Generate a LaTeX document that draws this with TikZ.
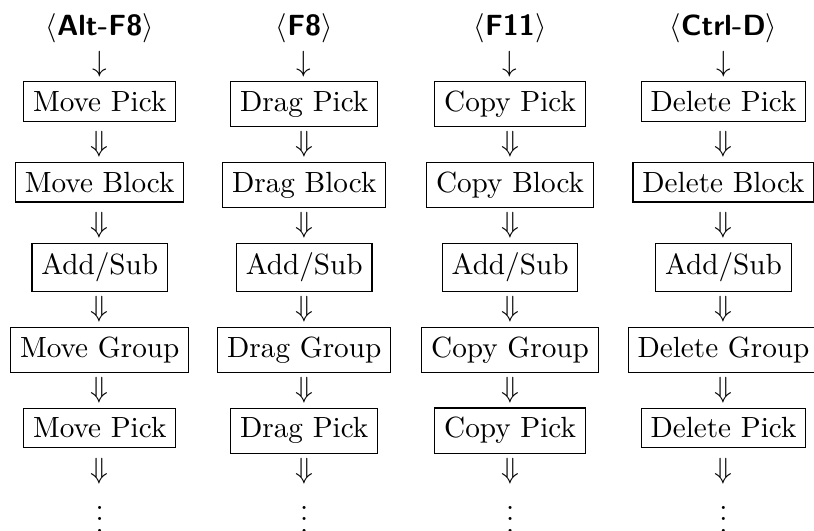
\documentclass[tikz,border=0pt]{standalone}
\usepackage{tikz}
\usetikzlibrary{positioning}

\begin{document}
\begin{tikzpicture}[x=1pt,y=1pt]
    \tikzstyle{op}=[draw,rectangle,inner sep=3.2,line width=0.4,anchor=base]
    \tikzstyle{key}=[inner sep=0,anchor=base,font=\sffamily\bfseries]
    \tikzstyle{flow}=[inner sep=0,anchor=base]
    \useasboundingbox (0,0) rectangle (278.8,-181.8);
    % Alt-F8 column
    {
        \node[key] (k1) at (34.15,-12.33) {$\langle$Alt-F8$\rangle$};
        \node[op] (p1) at (34.15,-38.17) {Move Pick};
        \node[op] (b1) at (34.15,-65.85) {Move Block};
        \node[op] (s1) at (34.15,-94.09) {Add/Sub};
        \node[op] (g1) at (34.15,-122.33) {Move Group};
        \node[op] (q1) at (34.15,-150.01) {Move Pick};
        \node[flow] (d1) at (34.15,-182.40) {$\vdots$};
    }
    % F8 column
    {
        \node[key] (k2) at (104.2,-12.33) {$\langle$F8$\rangle$};
        \node[op] (p2) at (104.2,-38.17) {Drag Pick};
        \node[op] (b2) at (104.2,-65.85) {Drag Block};
        \node[op] (s2) at (104.2,-94.09) {Add/Sub};
        \node[op] (g2) at (104.2,-122.33) {Drag Group};
        \node[op] (q2) at (104.2,-150.01) {Drag Pick};
        \node[flow] (d2) at (104.2,-182.40) {$\vdots$};
    }
    % F11 column
    {
        \node[key] (k3) at (174.7,-12.33) {$\langle$F11$\rangle$};
        \node[op] (p3) at (174.7,-38.17) {Copy Pick};
        \node[op] (b3) at (174.7,-65.85) {Copy Block};
        \node[op] (s3) at (174.7,-94.09) {Add/Sub};
        \node[op] (g3) at (174.7,-122.33) {Copy Group};
        \node[op] (q3) at (174.7,-150.01) {Copy Pick};
        \node[flow] (d3) at (174.7,-182.40) {$\vdots$};
    }
    % Ctrl-D column
    {
        \node[key] (k4) at (247.8,-12.33) {$\langle$Ctrl-D$\rangle$};
        \node[op] (p4) at (247.8,-38.17) {Delete Pick};
        \node[op] (b4) at (247.8,-65.85) {Delete Block};
        \node[op] (s4) at (247.8,-94.09) {Add/Sub};
        \node[op] (g4) at (247.8,-122.33) {Delete Group};
        \node[op] (q4) at (247.8,-150.01) {Delete Pick};
        \node[flow] (d4) at (247.8,-182.40) {$\vdots$};
    }
    % the arrows between the steps
    \foreach \c in {1,2,3,4}
    {
        \path (k\c.base) -- node[flow,pos=.464] {$\downarrow$} (p\c.base);
        \path (p\c.base) -- node[flow,pos=.5] {$\Downarrow$} (b\c.base);
        \path (b\c.base) -- node[flow,pos=.49] {$\Downarrow$} (s\c.base);
        \path (s\c.base) -- node[flow,pos=.51] {$\Downarrow$} (g\c.base);
        \path (g\c.base) -- node[flow,pos=.5] {$\Downarrow$} (q\c.base);
        \path (q\c.base) -- node[flow,pos=.427] {$\Downarrow$} (d\c.base);
    }
\end{tikzpicture}
\end{document}
